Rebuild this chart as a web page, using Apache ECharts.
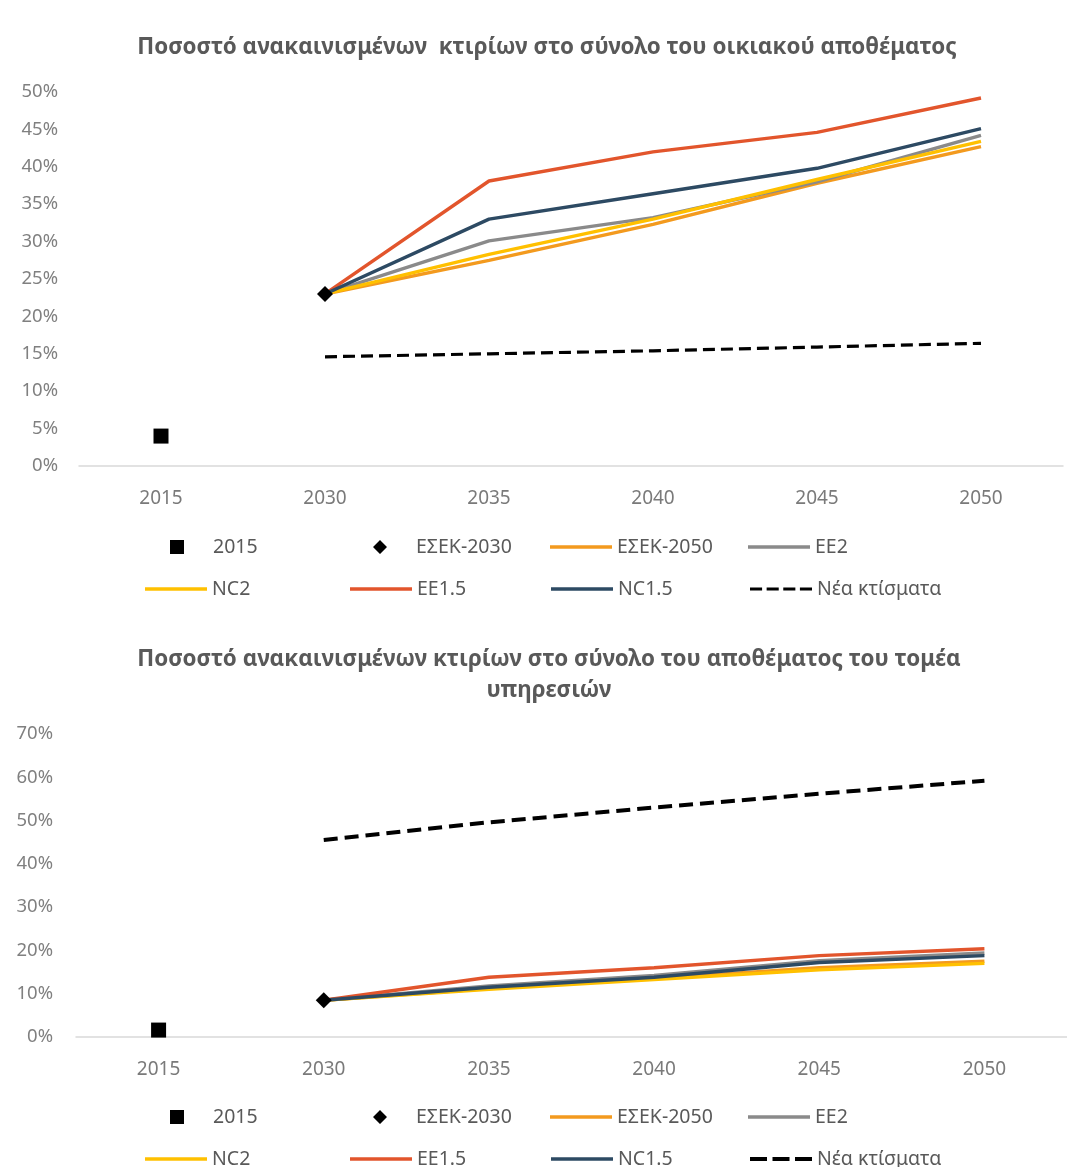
<!DOCTYPE html>
<html><head><meta charset="utf-8">
<script src="https://cdn.jsdelivr.net/npm/echarts@6/dist/echarts.min.js"></script>
<style>html,body{margin:0;padding:0;background:#fff}#c{width:1067px;height:1167px}</style>
</head><body><div id="c"></div>
<script>
const years = ['2015','2030','2035','2040','2045','2050'];
const seriesNames = ['2015','ΕΣΕΚ-2030','ΕΣΕΚ-2050','EE2','NC2','EE1.5','NC1.5','Νέα κτίσματα'];
const yTicksTop = [0,5,10,15,20,25,30,35,40,45,50];
const yTicksBottom = [0,10,20,30,40,50,60,70];

// Top chart: residential stock (%)
const topY2015      = [4.0, null, null, null, null, null];
const topYESEK2030  = [null, 23.0, null, null, null, null];
const topESEK2050   = [null, 23.0, 27.5, 32.3, 37.8, 42.7];
const topEE2        = [null, 23.0, 30.1, 33.2, 38.0, 44.2];
const topNC2        = [null, 23.0, 28.3, 33.0, 38.3, 43.4];
const topEE15       = [null, 23.0, 38.1, 42.0, 44.6, 49.2];
const topNC15       = [null, 23.0, 33.0, 36.4, 39.8, 45.1];
const topNew        = [null, 14.6, 15.0, 15.4, 15.9, 16.4];

// Bottom chart: services sector stock (%)
const botY2015      = [1.6, null, null, null, null, null];
const botYESEK2030  = [null, 8.5, null, null, null, null];
const botESEK2050   = [null, 8.5, 11.2, 13.5, 16.0, 17.5];
const botEE2        = [null, 8.5, 11.8, 14.2, 17.6, 19.4];
const botNC2        = [null, 8.5, 11.0, 13.3, 15.5, 17.0];
const botEE15       = [null, 8.5, 13.8, 16.0, 18.8, 20.4];
const botNC15       = [null, 8.5, 11.5, 13.8, 17.2, 18.8];
const botNew        = [null, 45.5, 49.6, 53.0, 56.2, 59.2];

const colors = {
  'ΕΣΕΚ-2050':'#F39A1E','EE2':'#8A8A8A','NC2':'#FFC000',
  'EE1.5':'#E2552C','NC1.5':'#2D4A63','Νέα κτίσματα':'#000000'
};
const FONT = '"Noto Sans", sans-serif';

function buildSeries(idx, d, dash) {
  const s = [];
  s.push({name:'2015', type:'scatter', xAxisIndex:idx, yAxisIndex:idx, data:d[0],
    symbol:'rect', symbolSize:15, itemStyle:{color:'#000', opacity:1}, z:5});
  s.push({name:'ΕΣΕΚ-2030', type:'scatter', xAxisIndex:idx, yAxisIndex:idx, data:d[1],
    symbol:'diamond', symbolSize:16, itemStyle:{color:'#000', opacity:1}, z:5});
  const lines = ['ΕΣΕΚ-2050','EE2','NC2','EE1.5','NC1.5','Νέα κτίσματα'];
  lines.forEach((n,i)=>{
    const isNew = n==='Νέα κτίσματα';
    s.push({name:n, type:'line', xAxisIndex:idx, yAxisIndex:idx, data:d[i+2],
      showSymbol:false, symbol:'none', smooth:false,
      lineStyle:{color:colors[n], width: isNew ? dash.width : 3.4, type: isNew ? dash.type : 'solid', cap:'butt'},
      itemStyle:{color:colors[n]}, z:2});
  });
  return s;
}

// legend icons drawn in a 62x14 box (zero-area subpaths fix the box size)
const BOX = 'M0,0L62,0L0,0Z M0,14L62,14L0,14Z ';
const ICONS = {
  '2015':'path://' + BOX + 'M24,0h14v14h-14z',
  'ΕΣΕΚ-2030':'path://' + BOX + 'M31,0L38,7L31,14L24,7Z',
  'line':'path://M0,0h62v3.4h-62z'
};
const DASH_ICON_TOP = 'path://M0,0h12v3.2h-12z M16.5,0h12v3.2h-12z M33,0h12v3.2h-12z M49.5,0h12v3.2h-12z';
const DASH_ICON_BOT = 'path://M0,0h17v4h-17z M22.5,0h17v4h-17z M45,0h17v4h-17z';

// legend placement: [name, left of icon box, row index]
const legendSlots = [
  ['2015',146,0],['ΕΣΕΚ-2030',349,0],['ΕΣΕΚ-2050',550,0],['EE2',748,0],
  ['NC2',145,1],['EE1.5',350,1],['NC1.5',551,1],['Νέα κτίσματα',750,1]
];
function legends(rowCenters, dashIcon) {
  return legendSlots.map(([n,x,r])=>({
    data:[{name:n, icon: n==='Νέα κτίσματα' ? dashIcon : (ICONS[n] || ICONS.line)}],
    left:x, top:rowCenters[r]-15, padding:0, orient:'horizontal',
    itemWidth:62, itemHeight:14, itemGap:5, selectedMode:false,
    textStyle:{fontFamily:FONT, fontSize:19.5, color:'#595959', lineHeight:30}
  }));
}

function yAxisCfg(idx, ticks, margin) {
  return {type:'value', gridIndex:idx, min:ticks[0], max:ticks[ticks.length-1],
    interval:ticks[1]-ticks[0],
    axisLine:{show:false}, axisTick:{show:false}, splitLine:{show:false},
    axisLabel:{formatter:'{value}%', fontFamily:FONT, fontSize:18.5, color:'#808080', margin:margin}};
}
function xAxisCfg(idx) {
  return {type:'category', gridIndex:idx, data:years, boundaryGap:true,
    axisLine:{show:true, lineStyle:{color:'#d9d9d9', width:1.5}}, axisTick:{show:false},
    axisLabel:{fontFamily:FONT, fontSize:19, color:'#7a7a7a', margin:23}};
}

const chart = echarts.init(document.getElementById('c'), null, {renderer:'canvas'});
chart.setOption({
  animation:false,
  backgroundColor:'#fff',
  title:[
    {text:'Ποσοστό ανακαινισμένων  κτιρίων στο σύνολο του οικιακού αποθέματος',
     left:547, top:33, textAlign:'center', padding:0,
     textStyle:{fontFamily:FONT, fontSize:22.4, fontWeight:'bold', color:'#595959', lineHeight:30}},
    {text:'Ποσοστό ανακαινισμένων κτιρίων στο σύνολο του αποθέματος του τομέα\nυπηρεσιών',
     left:549, top:644, textAlign:'center', padding:0,
     textStyle:{fontFamily:FONT, fontSize:22.4, fontWeight:'bold', color:'#595959', lineHeight:31}}
  ],
  legend:[...legends([547,589], DASH_ICON_TOP), ...legends([1117,1159], DASH_ICON_BOT)],
  grid:[
    {left:79, top:92, width:984, height:374, containLabel:false},
    {left:76, top:734, width:991, height:303, containLabel:false}
  ],
  xAxis:[xAxisCfg(0), xAxisCfg(1)],
  yAxis:[yAxisCfg(0, yTicksTop, 21), yAxisCfg(1, yTicksBottom, 23)],
  series:[
    ...buildSeries(0,[topY2015,topYESEK2030,topESEK2050,topEE2,topNC2,topEE15,topNC15,topNew], {width:3.2, type:[12,6]}),
    ...buildSeries(1,[botY2015,botYESEK2030,botESEK2050,botEE2,botNC2,botEE15,botNC15,botNew], {width:4, type:[14,7]})
  ]
});
</script>
</body></html>
